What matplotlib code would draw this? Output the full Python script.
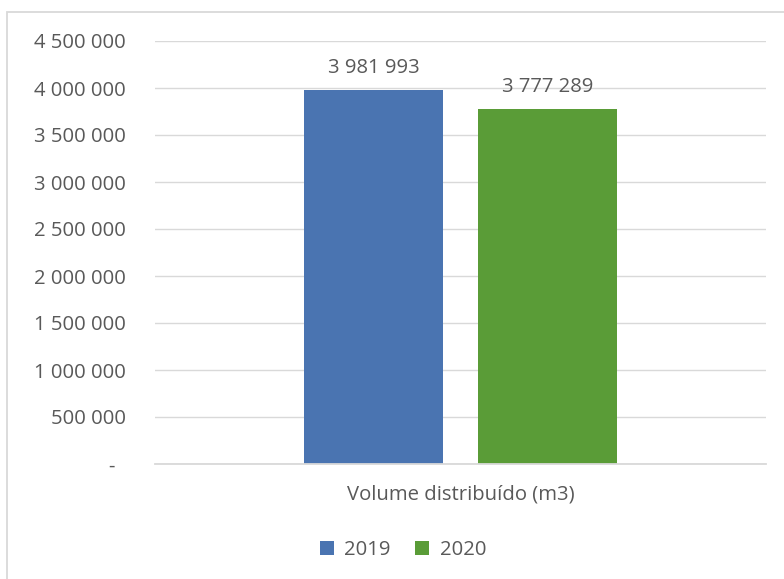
import matplotlib
matplotlib.use("Agg")
import matplotlib.pyplot as plt
from matplotlib.patches import Rectangle
from matplotlib.ticker import FixedLocator, FuncFormatter

categories = ["Volume distribuído (m3)"]
series_names = ["2019", "2020"]
values_2019 = [3981993]
values_2020 = [3777289]
y_ticks = [0, 500000, 1000000, 1500000, 2000000, 2500000, 3000000, 3500000, 4000000, 4500000]

colors = ["#4A74B1", "#5A9C37"]
text_color = "#595959"
grid_color = "#D9D9D9"

plt.rcParams["font.family"] = ["Open Sans", "DejaVu Sans"]
FS = 14.6

W, H = 784, 579
fig = plt.figure(figsize=(W / 100, H / 100), dpi=100)

# chart area border (extends beyond the right/bottom edges)
fig.patches.append(Rectangle((7 / W, -0.05), 1.2, 1 - 12 / H + 0.05,
                             transform=fig.transFigure, fill=False,
                             edgecolor=grid_color, linewidth=1.3))

ax = fig.add_axes([155 / W, 1 - 464 / H, 611 / W, 423 / H])

width = 0.226
offsets = [-0.1424, 0.1424]
all_vals = [values_2019, values_2020]
for i, (name, vals) in enumerate(zip(series_names, all_vals)):
    xs = [k + offsets[i] for k in range(len(categories))]
    bars = ax.bar(xs, vals, width=width, color=colors[i], label=name, zorder=3)
    for b, v in zip(bars, vals):
        ax.annotate(f"{v:,}".replace(",", " "),
                    xy=(b.get_x() + b.get_width() / 2, v),
                    xytext=(0, 12.2), textcoords="offset points",
                    ha="center", va="baseline", fontsize=FS, color=text_color)

ax.set_xlim(-0.5, len(categories) - 0.5)
ax.set_ylim(0, 4500000)
ax.yaxis.set_major_locator(FixedLocator(y_ticks))


def fmt(v, pos):
    if v == 0:
        return "-  "
    return f"{int(v):,}".replace(",", " ")


ax.yaxis.set_major_formatter(FuncFormatter(fmt))
ax.set_xticks(range(len(categories)))
ax.set_xticklabels(categories)

ax.tick_params(axis="y", length=0, pad=21, labelsize=FS, labelcolor=text_color)
ax.tick_params(axis="x", length=0, pad=15, labelsize=FS, labelcolor=text_color)

ax.grid(axis="y", color=grid_color, linewidth=1.0, zorder=0)
for s in ["top", "right", "left"]:
    ax.spines[s].set_visible(False)
ax.spines["bottom"].set_color(grid_color)
ax.spines["bottom"].set_linewidth(1.3)
ax.spines["bottom"].set_zorder(4)

handles, labels = ax.get_legend_handles_labels()
fig.legend(handles, labels, loc="center", bbox_to_anchor=(403 / W, 1 - 550 / H),
           ncol=2, frameon=False, fontsize=FS, labelcolor=text_color,
           handlelength=0.68, handleheight=0.68, handletextpad=0.53,
           columnspacing=1.2, borderpad=0, borderaxespad=0)

fig.savefig("out.png", dpi=100)
